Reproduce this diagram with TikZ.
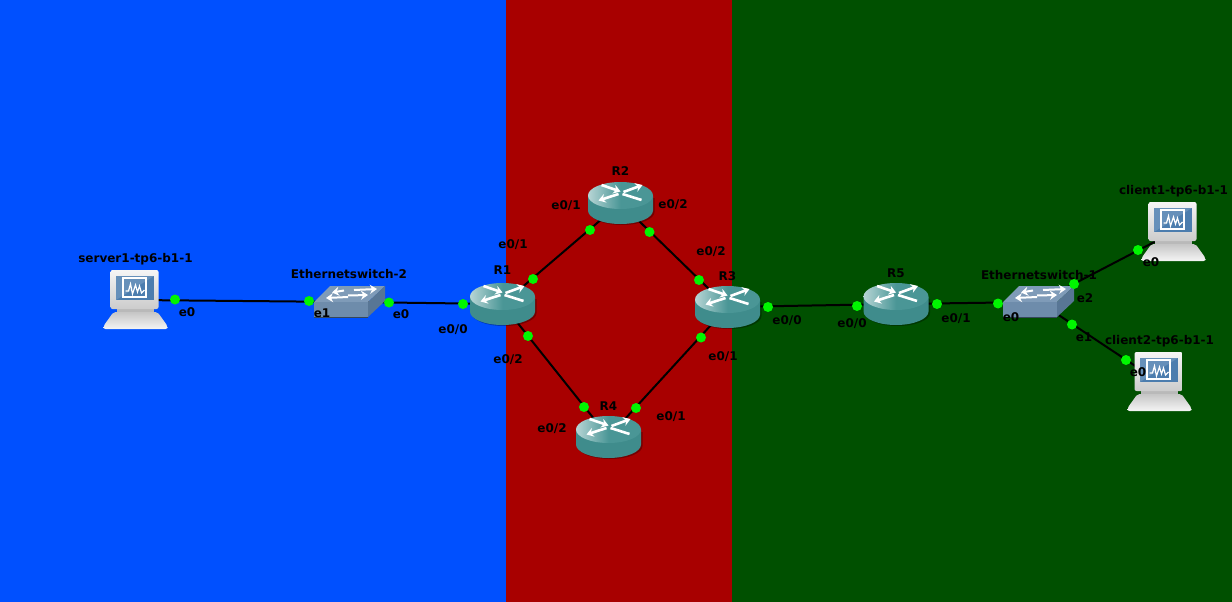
\documentclass[tikz,border=0pt]{standalone}
\usepackage{fontspec}
\setmainfont{DejaVu Sans}
\usepackage{xcolor}
\definecolor{zoneblue}{HTML}{0050FF}
\definecolor{zonered}{HTML}{A80000}
\definecolor{zonegreen}{HTML}{005000}
\definecolor{portgreen}{HTML}{00F500}
\definecolor{routerbody}{HTML}{3F8C8C}
\definecolor{routertop}{HTML}{4A9696}
\definecolor{switchtop}{HTML}{7F9BB8}
\definecolor{switchfront}{HTML}{6E8CAB}
\definecolor{switchside}{HTML}{587695}
\definecolor{screenblue}{HTML}{4C7DAE}
\usepackage{tikz}
\usetikzlibrary{
  arrows.meta,
  positioning,
  backgrounds
}

\tikzset{
  routerpic/.pic={
    \fill[black, opacity=0.3] (-31,-5) -- (34,-5) -- (34,9) arc[start angle=0, end angle=180, x radius=32.5, y radius=13] -- cycle;
    \fill[routerbody] (-32.5,-7) -- (32.5,-7) -- (32.5,7.5) arc[start angle=0, end angle=180, x radius=32.5, y radius=13.5] -- cycle;
    \shade[left color=white!60!routertop, right color=routertop, middle color=routertop] (0,-7.5) ellipse[x radius=32.5, y radius=13.5];
    \draw[swarrow] (-19,-18) -- (0,-11.5);
    \draw[swarrow] (3,-11) -- (22,-18);
    \draw[swarrow] (-2,-9) -- (-22,-2.5);
    \draw[swarrow, -] (2,-9) -- (21,-3);
  },
  switchpic/.pic={
    \fill[switchtop] (-36,0) -- (-20,-16) -- (35,-16) -- (18,0) -- cycle;
    \fill[switchfront] (-36,0) rectangle (18,15);
    \fill[switchside] (18,0) -- (35,-16) -- (35,-1) -- (18,15) -- cycle;
    \draw[switchside!60!black, line width=1pt] (-36,15) -- (18,15);
    \draw[swarrow, line width=2pt] (-6,-11.5) -- (-18,-9.5);
    \draw[swarrow, line width=2pt] (-2,-5) -- (-24,-4);
    \draw[swarrow, line width=2pt] (4,-12) -- (27,-13);
    \draw[swarrow, line width=2pt] (-2,-6.5) -- (18,-7);
  },
  hostpic/.pic={
    \fill[gray!55] (-19,9) rectangle (18,12);
    \shade[top color=gray!45, bottom color=gray!8, rounded corners=2pt] (-22,12) -- (22,12) -- (32,26) -- (32,29) -- (-32,29) -- (-32,26) -- cycle;
    \shade[top color=gray!8, bottom color=gray!40, rounded corners=2pt] (-25,-30) rectangle (23,9);
    \fill[screenblue] (-19.5,-24) rectangle (18.5,0);
    \fill[white, opacity=0.15] (-19.5,0) -- (-19.5,-24) -- (18.5,-24) -- cycle;
    \draw[white, line width=1.2pt] (-12.5,-22) rectangle (10.5,-3);
    \draw[white, line width=1.2pt] (-10,-9) -- (-7,-9) -- (-5,-16) -- (-3,-6) -- (0,-15) -- (2,-8) -- (4,-14) -- (6,-7) -- (9,-10);
  }
}

\begin{document}
\begin{tikzpicture}[
  x=1pt, y=-1pt,
  swarrow/.style={white, line width=2.6pt, -{Stealth[length=7pt, width=9pt]}},
  router/.style={minimum width=65pt, minimum height=42pt, inner sep=0pt},
  switchbox/.style={minimum width=71pt, minimum height=31pt, inner sep=0pt},
  host/.style={minimum width=65pt, minimum height=59pt, inner sep=0pt},
  link/.style={draw=black, line width=2pt},
  port/.style={circle, fill=portgreen, minimum size=10pt, inner sep=0pt},
  tag/.style={font=\fontsize{12pt}{14pt}\selectfont\bfseries, text=black, inner sep=0pt},
]
\useasboundingbox (0,0) rectangle (1232,602);

% Zones
\fill[zoneblue] (0,0) rectangle (506,602);
\fill[zonered] (506,0) rectangle (732,602);
\fill[zonegreen] (732,0) rectangle (1232,602);

% Devices
\node[host] (server1) at (135.5,300) {};
\node[switchbox] (sw2) at (350,302) {};
\node[router] (R1) at (502.5,304) {};
\node[router] (R2) at (620.5,203) {};
\node[router] (R3) at (727.5,307) {};
\node[router] (R4) at (608.5,437) {};
\node[router] (R5) at (896,304) {};
\node[switchbox] (sw1) at (1039,302) {};
\node[host] (client1) at (1173.5,232) {};
\node[host] (client2) at (1159.5,382) {};

% Links
\draw[link] (server1.center) -- (sw2.center);
\draw[link] (sw2.center) -- (R1.center);
\draw[link] (R1.center) -- (R2.center);
\draw[link] (R2.center) -- (R3.center);
\draw[link] (R1.center) -- (R4.center);
\draw[link] (R4.center) -- (R3.center);
\draw[link] (R3.center) -- (R5.center);
\draw[link] (R5.center) -- (sw1.center);
\draw[link] (sw1.center) -- (client1.center);
\draw[link] (sw1.center) -- (client2.center);

% Icons
\pic at (server1) {hostpic};
\pic at (client1) {hostpic};
\pic at (client2) {hostpic};
\pic at (sw2) {switchpic};
\pic at (sw1) {switchpic};
\pic at (R1) {routerpic};
\pic at (R2) {routerpic};
\pic at (R3) {routerpic};
\pic at (R4) {routerpic};
\pic at (R5) {routerpic};

% Ports
\node[port] (p1) at (175,299.5) {};
\node[port] (p2) at (309,301) {};
\node[port] (p3) at (389,302.5) {};
\node[port] (p4) at (463,304) {};
\node[port] (p5) at (533,279) {};
\node[port] (p6) at (590,230) {};
\node[port] (p7) at (649.5,232) {};
\node[port] (p8) at (699,280) {};
\node[port] (p9) at (528,336) {};
\node[port] (p10) at (584,407) {};
\node[port] (p11) at (636,408) {};
\node[port] (p12) at (701,337.5) {};
\node[port] (p13) at (768,307) {};
\node[port] (p14) at (857,306) {};
\node[port] (p15) at (937,304) {};
\node[port] (p16) at (998,303.5) {};
\node[port] (p17) at (1074,284) {};
\node[port] (p18) at (1138,250) {};
\node[port] (p19) at (1072,324.5) {};
\node[port] (p20) at (1126,360) {};

% Device names
\node[tag, above=5pt of server1] (server1name) {server1-tp6-b1-1};
\node[tag, above=7pt of sw2, xshift=-1pt] (sw2name) {Ethernetswitch-2};
\node[tag, above=8pt of R1] (R1name) {R1};
\node[tag, above=6pt of R2] (R2name) {R2};
\node[tag, above=5pt of R3] (R3name) {R3};
\node[tag, above=5pt of R4] (R4name) {R4};
\node[tag, above=5pt of R5] (R5name) {R5};
\node[tag, above=6pt of sw1] (sw1name) {Ethernetswitch-1};
\node[tag, above=5pt of client1] (client1name) {client1-tp6-b1-1};
\node[tag, above=5pt of client2] (client2name) {client2-tp6-b1-1};

% Port labels
\node[tag] (l1) at (187,312) {e0};
\node[tag] (l2) at (322,313) {e1};
\node[tag] (l3) at (401,314.5) {e0};
\node[tag] (l4) at (453,330) {e0/0};
\node[tag] (l5) at (513,245) {e0/1};
\node[tag] (l6) at (566,206) {e0/1};
\node[tag] (l7) at (673,205) {e0/2};
\node[tag] (l8) at (711,252) {e0/2};
\node[tag] (l9) at (508,360) {e0/2};
\node[tag] (l10) at (552,429) {e0/2};
\node[tag] (l11) at (671,417) {e0/1};
\node[tag] (l12) at (723,357) {e0/1};
\node[tag] (l13) at (787,321) {e0/0};
\node[tag] (l14) at (852,324) {e0/0};
\node[tag] (l15) at (956,319) {e0/1};
\node[tag] (l16) at (1011,317) {e0};
\node[tag] (l17) at (1085,298) {e2};
\node[tag] (l18) at (1084,337) {e1};
\node[tag] (l19) at (1151,262) {e0};
\node[tag] (l20) at (1138,372) {e0};

\end{tikzpicture}
\end{document}
